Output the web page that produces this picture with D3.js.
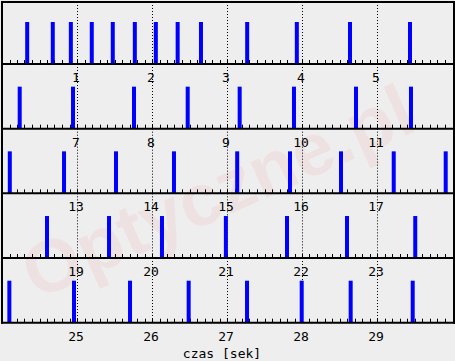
<!DOCTYPE html>
<html>
<head>
<meta charset="utf-8">
<script src="https://cdn.jsdelivr.net/npm/d3@7"></script>
<style>
  html, body { margin: 0; padding: 0; background: #eeeeee; }
  svg { display: block; }
</style>
</head>
<body>
<svg id="chart" width="455" height="361"></svg>
<script>
// Onset times (seconds)
const events = [
  0.336, 0.677, 0.918, 1.197, 1.477, 1.771, 2.051, 2.342, 2.653, 3.269, 3.931, 4.64, 5.44,
  6.236, 6.947, 7.76, 8.476, 9.169, 9.893, 10.72, 11.453,
  12.104, 12.827, 13.52, 14.293, 15.136, 15.84, 16.52, 17.223, 17.916,
  18.6, 19.427, 20.133, 20.985, 21.8, 22.6, 23.51,
  24.098, 24.96, 25.707, 26.489, 27.267, 27.996, 28.649, 29.476
];
const rowStarts = [0, 6, 12, 18, 24];          // seconds at the start of each row
const rowSpan = 6;                              // seconds per row
const rowTickLabels = [
  [1, 2, 3, 4, 5],
  [7, 8, 9, 10, 11],
  [13, 14, 15, 16, 17],
  [19, 20, 21, 22, 23],
  [25, 26, 27, 28, 29]
];
const xTitle = "czas [sek]";
const watermark = "Optyczne.pl";

const svg = d3.select("#chart");
const W = 455, H = 361;
svg.append("rect").attr("width", W).attr("height", H).attr("fill", "#eeeeee");

// watermark
svg.append("text")
  .attr("transform", "translate(228,215) rotate(-24)")
  .attr("text-anchor", "middle")
  .attr("font-family", "Liberation Sans, Arial, sans-serif")
  .attr("font-weight", "bold")
  .attr("font-size", 74)
  .attr("fill", "#ff0000")
  .attr("fill-opacity", 0.05)
  .text(watermark);

const x = d3.scaleLinear().domain([0, rowSpan]).range([2, 452]);
const rowBottom = d3.scaleLinear().domain([0, 4]).range([64, 322.7]);
const topY = 2;
const barH = 42;
const mono = "DejaVu Sans Mono, Liberation Mono, monospace";

rowStarts.forEach((start, r) => {
  const yb = rowBottom(r);
  const yt = r === 0 ? topY : rowBottom(r - 1);
  const g = svg.append("g");

  // dotted gridlines at whole seconds
  g.selectAll("line.grid").data(d3.range(1, rowSpan)).join("line")
    .attr("x1", d => Math.round(x(d)) + 0.5).attr("x2", d => Math.round(x(d)) + 0.5)
    .attr("y1", yt).attr("y2", yb)
    .attr("stroke", "#000").attr("stroke-width", 1)
    .attr("stroke-dasharray", "1,2");

  // minor ticks every 0.1 s
  const minor = d3.range(1, rowSpan * 10).map(i => i / 10);
  g.selectAll("line.tick").data(minor).join("line")
    .attr("x1", d => Math.round(x(d)) + 0.5).attr("x2", d => Math.round(x(d)) + 0.5)
    .attr("y1", yb - 4).attr("y2", yb)
    .attr("stroke", "#000").attr("stroke-width", 1);

  // bars
  const evs = events.filter(t => t >= start && t < start + rowSpan);
  g.selectAll("rect.bar").data(evs).join("rect")
    .attr("x", d => x(d - start) - 2)
    .attr("width", 4)
    .attr("y", yb - barH)
    .attr("height", barH)
    .attr("fill", "#0000ff");

  // axis line
  g.append("line")
    .attr("x1", 1).attr("x2", 455)
    .attr("y1", yb).attr("y2", yb)
    .attr("stroke", "#000").attr("stroke-width", 2);

  // tick labels
  g.selectAll("text.lab").data(rowTickLabels[r]).join("text")
    .attr("x", d => x(d - start) - 1)
    .attr("y", yb + 18)
    .attr("text-anchor", "middle")
    .attr("font-family", mono)
    .attr("font-size", 13)
    .attr("fill", "#000")
    .text(d => d);
});

// frame: top, left, right
svg.append("line").attr("x1", 1).attr("x2", 455).attr("y1", topY).attr("y2", topY)
  .attr("stroke", "#000").attr("stroke-width", 2);
svg.append("line").attr("x1", 2).attr("x2", 2).attr("y1", 1).attr("y2", rowBottom(4) + 1)
  .attr("stroke", "#000").attr("stroke-width", 2);
svg.append("line").attr("x1", 454).attr("x2", 454).attr("y1", 1).attr("y2", rowBottom(4) + 1)
  .attr("stroke", "#000").attr("stroke-width", 2);

// axis title
svg.append("text")
  .attr("x", 222).attr("y", 358)
  .attr("text-anchor", "middle")
  .attr("font-family", mono)
  .attr("font-size", 13)
  .attr("fill", "#000")
  .text(xTitle);
</script>
</body>
</html>
